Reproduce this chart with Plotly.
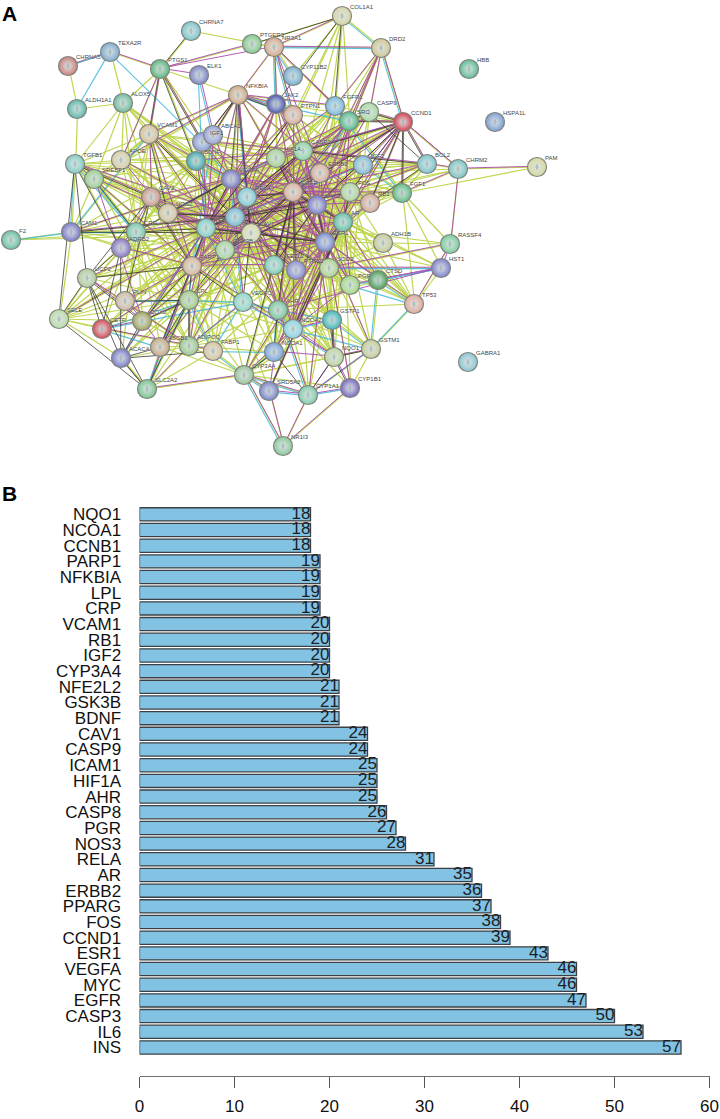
import plotly.graph_objects as go

# panel B values, top bar first
genes = ["NQO1", "NCOA1", "CCNB1", "PARP1", "NFKBIA", "LPL", "CRP", "VCAM1", "RB1", "IGF2", "CYP3A4",
         "NFE2L2", "GSK3B", "BDNF", "CAV1", "CASP9", "ICAM1", "HIF1A", "AHR", "CASP8", "PGR", "NOS3",
         "RELA", "AR", "ERBB2", "PPARG", "FOS", "CCND1", "ESR1", "VEGFA", "MYC", "EGFR", "CASP3", "IL6", "INS"]
counts = [18, 18, 18, 19, 19, 19, 19, 20, 20, 20, 20, 21, 21, 21, 24, 24, 25, 25, 25, 26, 27, 28,
          31, 35, 36, 37, 38, 39, 43, 46, 46, 47, 50, 53, 57]
count_ticks = [0, 10, 20, 30, 40, 50, 60]

# panel A network, positions
node_names = ["CHRNA7", "TEXA2R", "CHRNA5", "ALDH1A1", "ALOX5", "PTGS1", "ELK1", "PTGER3", "NR3A1", "COL1A1",
              "DRD2", "HBB", "HSPA1L", "PAM", "CYP11B2", "NFKBIA", "JAK2", "PTPN1", "FGFR1", "SRC",
              "CASP9", "CCND1", "VCAM1", "IGF1", "ABCA1", "BDNF", "TGFB1", "APOE", "SREBF1", "CAV2",
              "NOS2", "VEGFA", "HIF1A", "CASP3", "ERBB2", "IGF2", "BCL2", "CHRM2", "FGF1", "RB1",
              "RELA", "IL6", "INS", "EGFR", "MYC", "FOS", "AR", "ESR1", "CAV1", "ICAM1",
              "CRP", "F2", "ADRB2", "GSK3B", "PARP1", "NFE2L2", "PTGS2", "SOD2", "PGR", "CTSD",
              "ADH1B", "RASSF4", "HST1", "TP53", "VEGFC", "AHR", "NCOA2", "GSTP1", "NCOA1", "NQO1",
              "GSTM1", "CYP1B1", "CYP1A1", "SRD5A2", "CYP3A4", "NR1I3", "FABP1", "ADIPOQ", "ABCB1", "ACACA",
              "SLC2A2", "COX2", "CETP", "SELE", "UCP2", "PLIN", "LPL", "GABRA1"]
node_x = [191, 110, 68, 77, 123, 160, 199, 252, 274, 342,
          381, 469, 495, 537, 293, 238, 276, 293, 335, 349,
          369, 403, 149, 202, 213, 196, 75, 121, 94, 151,
          168, 231, 276, 303, 320, 363, 427, 458, 402, 370,
          247, 235, 206, 293, 317, 350, 343, 325, 251, 71,
          136, 11, 121, 225, 192, 274, 296, 329, 350, 378,
          383, 450, 441, 414, 243, 278, 293, 332, 274, 334,
          371, 350, 308, 269, 244, 283, 213, 189, 160, 121,
          147, 142, 102, 59, 87, 125, 189, 468]
node_y = [31, 52, 66, 109, 103, 69, 75, 44, 47, 16,
          48, 69, 122, 167, 76, 95, 104, 115, 106, 121,
          112, 122, 134, 142, 135, 161, 164, 160, 179, 197,
          213, 179, 158, 151, 173, 165, 164, 169, 193, 203,
          197, 217, 228, 192, 205, 192, 222, 242, 233, 232,
          232, 240, 248, 250, 266, 265, 270, 268, 285, 280,
          243, 244, 268, 304, 302, 310, 329, 320, 352, 357,
          349, 388, 395, 391, 375, 446, 351, 346, 347, 358,
          389, 321, 329, 319, 278, 301, 300, 362]
node_colors = ["#7cc6cc", "#7fa9cf", "#c9807c", "#5fb6a8", "#72bb9f", "#5cb67c", "#7f84c6", "#86c98c", "#dcaa92", "#d9d4a4",
               "#d2c692", "#60bb92", "#7d9cd0", "#d9d99d", "#78afd2", "#d3a984", "#4a56ae", "#e0ad9c", "#7bb9dc", "#55ba8c",
               "#a9d9a4", "#d83c52", "#d9c29c", "#8b9dd8", "#9ba1d8", "#45a8ac", "#85ccc4", "#d8cda4", "#a0cf92", "#cf9a8e",
               "#d9c5a0", "#7c78c4", "#a9d094", "#8fd4a4", "#dcae9c", "#82bcd8", "#7cc4cc", "#7cc4c4", "#62bc84", "#dba898",
               "#84ccd8", "#78bcd4", "#84d0c4", "#e0b09c", "#7d7acb", "#b0d69a", "#64c0a8", "#7c8ad0", "#dcdcae", "#7c78c8",
               "#7cc8ac", "#6cc0a4", "#8c78c8", "#a9d6a0", "#dcb498", "#80d0bc", "#8c8cd0", "#b0d490", "#a4d884", "#4c9e58",
               "#c8cc98", "#7ccc9c", "#7f80cc", "#e4a89c", "#8cd8c8", "#7cc8a0", "#8cd4e4", "#40b8bc", "#7ca4dc", "#c0d4a0",
               "#c8cc98", "#7a68c0", "#84ccac", "#7c84cc", "#9cc49c", "#8cc89c", "#dcc4a0", "#9cc88c", "#c8a884", "#7c7ccc",
               "#7cc490", "#a4a460", "#d84854", "#bcdca8", "#b4cc9c", "#d4b8a4", "#a4cc88", "#8cc4d4"]

# evidence channels, hub -> partners
text_links = {
    "INS": "VEGFA RELA IL6 EGFR MYC FOS AR ESR1 CAV1 CASP3 HIF1A ERBB2 IGF2 RB1 BDNF IGF1 ABCA1 SRC FGFR1 CASP9 CCND1 PTPN1 JAK2 NFKBIA NFE2L2 PTGS2 SOD2 PGR AHR NCOA2 GSK3B PARP1 NOS2 CAV2 VCAM1 TGFB1 APOE SREBF1 ICAM1 CRP ADRB2 UCP2 PLIN LPL COX2 CETP SELE FABP1 ADIPOQ ABCB1 ACACA SLC2A2 VEGFC NCOA1 CYP3A4 SRD5A2 NQO1 GSTP1 BCL2 FGF1",
    "IL6": "VEGFA RELA EGFR MYC FOS AR ESR1 CAV1 CASP3 HIF1A ERBB2 IGF2 RB1 BDNF IGF1 SRC FGFR1 CASP9 CCND1 PTPN1 JAK2 NFKBIA NFE2L2 PTGS2 SOD2 PGR AHR NCOA2 GSK3B PARP1 NOS2 CAV2 VCAM1 TGFB1 APOE SREBF1 ICAM1 CRP ALOX5 UCP2 PLIN LPL COX2 CETP SELE FABP1 ADIPOQ NCOA1 NQO1 GSTP1 BCL2 TP53 CTSD ADH1B RASSF4",
    "VEGFA": "RELA EGFR MYC FOS AR ESR1 CAV1 CASP3 HIF1A ERBB2 IGF2 RB1 BDNF IGF1 SRC FGFR1 CASP9 CCND1 PTPN1 JAK2 NFKBIA NFE2L2 PTGS2 SOD2 PGR AHR NCOA2 GSK3B PARP1 NOS2 CAV2 VCAM1 TGFB1 ICAM1 CRP COX2 VEGFC LPL SELE FGF1 BCL2 ALOX5 GSTP1 NCOA1",
    "EGFR": "RELA MYC FOS AR ESR1 CAV1 CASP3 HIF1A ERBB2 IGF2 RB1 IGF1 SRC FGFR1 CASP9 CCND1 PTPN1 JAK2 NFKBIA NFE2L2 PTGS2 SOD2 PGR AHR NCOA2 GSK3B PARP1 FGF1 BCL2 COL1A1 DRD2 ADH1B CTSD TP53 NCOA1 GSTP1 CYP1A1 CYP3A4 NQO1",
    "MYC": "FOS AR ESR1 CAV1 CASP3 HIF1A ERBB2 IGF2 RB1 SRC FGFR1 CASP9 CCND1 PTPN1 JAK2 NFE2L2 PTGS2 PGR AHR NCOA2 GSK3B PARP1 FGF1 BCL2 CHRM2 DRD2 VCAM1 CAV2 NOS2 TP53 CTSD HST1 NCOA1 VEGFC",
    "CASP3": "RELA FOS AR ESR1 CAV1 HIF1A ERBB2 IGF2 RB1 BDNF IGF1 SRC CASP9 CCND1 JAK2 NFKBIA NFE2L2 PTGS2 SOD2 AHR GSK3B PARP1 NOS2 BCL2 VCAM1 ICAM1 APOE LPL TP53 NQO1 GSTP1 ADIPOQ",
    "ESR1": "RELA FOS AR CAV1 HIF1A ERBB2 IGF2 RB1 IGF1 SRC FGFR1 CCND1 NFE2L2 PTGS2 PGR AHR NCOA2 NCOA1 GSK3B PARP1 CYP1A1 CYP1B1 CYP3A4 SRD5A2 GSTM1 NQO1 TP53 BCL2 RASSF4 HST1 FABP1 LPL COX2 UCP2",
    "CAV1": "RELA FOS AR HIF1A ERBB2 IGF2 SRC FGFR1 NOS2 VCAM1 ICAM1 CRP ADRB2 APOE SREBF1 CAV2 LPL PLIN ABCA1 ABCB1 SLC2A2 FABP1 ADIPOQ ACACA CETP UCP2 COX2 TGFB1 F2 PARP1 GSK3B AHR PGR SOD2 NFE2L2",
    "RELA": "FOS AR HIF1A ERBB2 IGF2 BDNF IGF1 SRC CCND1 PTPN1 JAK2 NFKBIA NFE2L2 PTGS2 SOD2 AHR GSK3B PARP1 NOS2 CAV2 VCAM1 ICAM1 CRP COX2 SELE TGFB1 ALOX5 PTGS1 NQO1 FGF1 RB1 CASP9",
    "HIF1A": "FOS AR ERBB2 IGF2 IGF1 SRC FGFR1 CCND1 JAK2 NFE2L2 PTGS2 SOD2 AHR NOS2 FGF1 BCL2 NFKBIA PTPN1 CASP9 NR3A1 COL1A1 GSK3B PARP1 RB1 PGR NCOA2 BDNF",
    "ERBB2": "FOS AR IGF2 RB1 SRC FGFR1 CCND1 JAK2 PTPN1 PGR NCOA2 NCOA1 FGF1 BCL2 CHRM2 DRD2 COL1A1 CASP9 PTGS2 SOD2 GSK3B NFE2L2 AHR BDNF PARP1",
    "AR": "FOS IGF2 RB1 SRC CCND1 PGR NCOA2 NCOA1 SRD5A2 CYP3A4 CYP1A1 CYP1B1 GSTP1 GSTM1 NQO1 CTSD TP53 HST1 ADH1B GSK3B PTGS2 AHR NFE2L2 SOD2 PARP1 BCL2 FGF1",
    "FOS": "IGF2 RB1 SRC FGFR1 CASP9 PTPN1 JAK2 NFE2L2 PTGS2 SOD2 PGR AHR NCOA2 GSK3B PARP1 BCL2 FGF1 CHRM2 BDNF CTSD ADH1B NOS2 NCOA1",
    "IGF2": "RB1 SRC FGFR1 CASP9 PTPN1 JAK2 PTGS2 SOD2 PGR AHR NCOA2 GSK3B BCL2 FGF1 IGF1 BDNF PARP1 NOS2 ABCA1",
    "NFE2L2": "PTGS2 SOD2 PGR AHR NCOA2 GSK3B PARP1 NOS2 CAV2 VCAM1 BDNF IGF1 VEGFC NQO1 GSTP1 GSTM1 CYP1A1 COX2 LPL",
    "PTGS2": "SOD2 PGR AHR NCOA2 GSK3B PARP1 NOS2 CAV2 VCAM1 VEGFC NQO1 GSTP1 BDNF LPL ADIPOQ NCOA1 CTSD",
    "GSK3B": "PARP1 NOS2 CAV2 VCAM1 BDNF IGF1 ABCA1 VEGFC NCOA2 PLIN APOE SREBF1 COX2 ADIPOQ ABCB1 ICAM1 ADRB2 TGFB1 CRP",
    "PARP1": "NOS2 CAV2 VCAM1 BDNF IGF1 ICAM1 ADRB2 TGFB1 APOE SREBF1 UCP2 PLIN COX2 ABCB1 SELE FABP1 VEGFC NCOA2",
    "BDNF": "IGF1 ABCA1 NOS2 CAV2 VCAM1 APOE SREBF1 TGFB1 ADRB2 CRP ICAM1 NFKBIA PTGS1 ALOX5",
    "CRP": "F2 ICAM1 ADRB2 TGFB1 APOE SREBF1 CAV2 NOS2 VCAM1 UCP2 PLIN SELE CETP COX2 ADIPOQ ABCB1 FABP1 IGF1 ALOX5 ACACA LPL",
    "LPL": "APOE SREBF1 CAV2 NOS2 ADRB2 UCP2 PLIN COX2 CETP SELE ABCB1 ADIPOQ FABP1 ACACA SLC2A2 VEGFC AHR NCOA1 CYP3A4 NCOA2",
    "ADIPOQ": "SREBF1 UCP2 PLIN COX2 CETP SELE ABCB1 FABP1 ACACA SLC2A2 VEGFC AHR NCOA1 CYP3A4 NCOA2 ADRB2",
    "CYP3A4": "CYP1A1 CYP1B1 SRD5A2 NR1I3 NCOA1 NCOA2 NQO1 GSTM1 GSTP1 AHR FABP1 ABCB1 SLC2A2 PGR",
    "AHR": "NCOA2 NCOA1 NQO1 GSTP1 GSTM1 CYP1A1 CYP1B1 PGR SOD2 VEGFC CTSD TP53",
    "SOD2": "PGR CTSD TP53 ADH1B NQO1 GSTP1 GSTM1 RASSF4 HST1",
    "CCND1": "BCL2 CHRM2 FGF1 RB1 CASP9 SRC DRD2 PTPN1 FGFR1 JAK2",
    "FGF1": "CHRM2 BCL2 RB1 RASSF4 TP53 HST1 PAM SRC FGFR1",
    "NFKBIA": "IGF1 ABCA1 VCAM1 PTPN1 JAK2 FGFR1 NR3A1 PTGS1 SREBF1 APOE",
    "PTGS1": "CHRNA7 TEXA2R ALOX5 VCAM1 IGF1 PTGER3 APOE",
    "ALOX5": "TEXA2R ALDH1A1 TGFB1 VCAM1 APOE SREBF1 CAV2",
    "VCAM1": "TGFB1 APOE SREBF1 CAV2 NOS2 IGF1 ICAM1 ADRB2",
    "TGFB1": "ALDH1A1 SREBF1 APOE CAV2 ICAM1 ADRB2",
    "SELE": "UCP2 COX2 ACACA CETP ICAM1 ADRB2 PLIN",
    "NR3A1": "CHRNA7 PTGER3 COL1A1 DRD2 PTPN1 JAK2 CYP11B2 FGFR1 SRC",
    "DRD2": "CASP9 CCND1 SRC FGFR1 COL1A1",
    "COL1A1": "PTGER3 FGFR1 SRC CYP11B2 PTPN1",
    "TP53": "RASSF4 HST1 GSTM1 CTSD ADH1B",
    "GSTM1": "CTSD NQO1 CYP1B1 CYP1A1 GSTP1",
    "NR1I3": "SRD5A2 CYP1A1 CYP1B1",
    "SLC2A2": "ACACA ABCB1 CYP3A4 FABP1",
    "CHRM2": "PAM BCL2 RASSF4",
    "ICAM1": "F2 SREBF1 ADRB2",
    "CHRNA5": "TEXA2R ALDH1A1",
}
exp_links = {
    "EGFR": "RELA MYC FOS AR ESR1 CASP3 ERBB2 SRC RB1 CCND1 JAK2 PTPN1 FGFR1 GSK3B PARP1 NFE2L2 PTGS2 PGR AHR SOD2 NCOA2 CAV1 VEGFA HIF1A IL6 IGF2 CASP9 BCL2 FGF1 NFKBIA IGF1",
    "MYC": "FOS AR ESR1 CASP3 RB1 CCND1 GSK3B PARP1 NFE2L2 HIF1A RELA VEGFA CASP9 BCL2 ERBB2 PGR NCOA2 SOD2 AHR PTGS2 IGF2 JAK2 SRC DRD2 CAV1",
    "CASP3": "RELA ESR1 BCL2 CASP9 PARP1 GSK3B IGF2 RB1 JAK2 NFKBIA HIF1A CCND1 INS IL6 SOD2 NQO1 VEGFA FOS ERBB2 NFE2L2 BDNF IGF1 PTPN1",
    "ESR1": "RELA AR FOS PGR NCOA2 NCOA1 AHR CCND1 RB1 CYP1A1 CYP1B1 SRC IGF1 ERBB2 GSK3B TP53 GSTM1 CYP3A4 VEGFA HIF1A PARP1 PTGS2 NFE2L2 CAV1 INS SOD2 CTSD",
    "INS": "IGF1 IGF2 SRC ABCA1 NFKBIA PTPN1 JAK2 GSK3B VEGFA FOS CAV1 LPL ADIPOQ ACACA SREBF1 COX2 RELA PARP1 NOS2 CAV2 UCP2 BDNF AHR",
    "IL6": "RELA JAK2 NFKBIA VEGFA CRP ICAM1 VCAM1 SELE TGFB1 FOS HIF1A CAV1 SRC GSK3B PARP1 NOS2 PTGS2 AHR NFE2L2 SOD2",
    "VEGFA": "RELA HIF1A FOS SRC JAK2 PTPN1 FGFR1 CAV1 CAV2 NOS2 ICAM1 VCAM1 PARP1 GSK3B PTGS2 NFE2L2 NCOA2 AHR VEGFC BDNF IGF1",
    "CAV1": "SRC FOS ERBB2 AR RELA NOS2 APOE CAV2 LPL PLIN ADIPOQ ABCB1 COX2 CETP ABCA1 GSK3B PTGS2",
    "RELA": "FOS AR ERBB2 HIF1A JAK2 NFKBIA NFE2L2 PTGS2 SOD2 AHR GSK3B PARP1 NOS2 PTPN1 SRC",
    "AR": "FOS ERBB2 RB1 SRC CCND1 PGR NCOA2 NCOA1 SRD5A2 GSK3B PTGS2 CTSD AHR",
    "CCND1": "RB1 SRC FOS BCL2 CHRM2 CASP9 IGF2 GSK3B DRD2 RELA ERBB2 HIF1A FGF1",
    "NFKBIA": "RELA PTPN1 JAK2 FGFR1 NR3A1 ABCA1 IGF1 VCAM1 APOE",
    "NR3A1": "DRD2 PTPN1 JAK2 FGFR1 PTGS1 ERBB2 COL1A1 SRC",
    "DRD2": "SRC FGFR1 CASP9 ERBB2",
    "PTGS1": "TEXA2R PTGER3 ELK1 IGF1 VCAM1 APOE",
    "CYP1A1": "CYP1B1 SRD5A2 CYP3A4 AHR NR1I3 GSTM1 NQO1",
    "NR1I3": "CYP3A4 SRD5A2 CYP1B1",
    "SRD5A2": "CYP3A4 AR NCOA1",
    "SLC2A2": "CYP3A4 INS",
    "CHRM2": "PAM RASSF4 BCL2 CCND1 FGF1",
    "RASSF4": "TP53 HST1 SOD2",
    "HST1": "SOD2 PGR AHR CTSD",
    "COX2": "CETP LPL PLIN ABCB1 SREBF1 UCP2",
    "CAV2": "APOE TGFB1 VCAM1 NOS2 ADRB2 PARP1",
    "ADIPOQ": "FABP1 LPL CETP SLC2A2 UCP2 VEGFC",
    "PARP1": "ABCB1 VCAM1 ADRB2 TGFB1 NCOA2 NFE2L2",
    "GSK3B": "NOS2 CAV2 VCAM1 BDNF PTGS2 NFE2L2",
    "NCOA2": "NCOA1 GSTP1 CYP3A4 PGR SOD2 NFE2L2",
    "NQO1": "NCOA1 GSTP1 GSTM1 CYP1B1 VEGFC NCOA2",
    "ELK1": "ABCA1",
    "TEXA2R": "CHRNA5",
}
db_links = {
    "NR3A1": "DRD2 JAK2 PTPN1 CYP11B2",
    "TEXA2R": "CHRNA5 ALDH1A1 IGF1",
    "ELK1": "IGF1 ABCA1",
    "ICAM1": "TGFB1 CRP F2 VCAM1",
    "CRP": "TGFB1 SREBF1",
    "NFKBIA": "RELA JAK2 PTPN1",
    "HST1": "SOD2 CTSD PGR",
    "CYP1A1": "CYP3A4 CYP1B1 SRD5A2 GSTM1",
    "CYP3A4": "NR1I3 SRD5A2 NCOA1",
    "GSTM1": "CTSD TP53 GSTP1",
    "TP53": "PGR CTSD",
    "DRD2": "COL1A1 CCND1",
    "FGF1": "FGFR1 IGF2",
    "SRC": "EGFR ERBB2 JAK2 FGFR1",
    "VEGFA": "HIF1A IGF1 VEGFC NOS2 CAV1 BDNF",
    "INS": "IGF1 IGF2 SLC2A2 VEGFC ACACA",
    "LPL": "VEGFC PLIN ABCA1 CETP SLC2A2",
    "FABP1": "LPL NCOA1 CYP3A4 VEGFC",
    "AHR": "NCOA2 NCOA1 CYP1A1",
    "VEGFC": "AHR NCOA2 GSTP1 ADIPOQ COX2",
    "NCOA2": "GSTP1 NQO1 GSTM1",
    "CETP": "COX2 ABCB1",
}
coexp_links = {
    "CCND1": "FGF1 RB1 FOS CASP9 CASP3 MYC EGFR",
    "NFKBIA": "VEGFA IGF1 BDNF CAV1 PTPN1",
    "COL1A1": "PTGER3 FGFR1 JAK2",
    "PARP1": "LPL CAV2 UCP2 COX2 ABCB1 VEGFC",
    "CRP": "ICAM1 SREBF1 ADRB2 VEGFA INS CAV1",
    "UCP2": "COX2 CETP ACACA SLC2A2 SELE CAV2",
    "ACACA": "SLC2A2 COX2 ABCB1 FABP1",
    "LPL": "COX2 ABCB1 ADIPOQ PLIN SLC2A2 GSK3B",
    "NCOA1": "CYP1A1 CYP3A4 AHR",
    "NQO1": "GSTM1 CYP1B1 CYP1A1 GSTP1",
    "CAV1": "ESR1 PTGS2 EGFR INS GSK3B VEGFC RELA",
    "EGFR": "RELA ESR1 MYC PTGS2 AHR CYP3A4 AR NFE2L2 GSK3B HIF1A",
    "MYC": "ESR1 NFE2L2 AR IL6 HIF1A GSK3B",
    "IL6": "CASP3 ESR1 INS FOS VCAM1 ICAM1 SOD2 NOS2",
    "INS": "VEGFA ESR1 CASP3 ERBB2 PTPN1 PARP1",
    "AR": "ESR1 FOS NCOA2 SRD5A2",
    "BCL2": "CCND1 CASP9 CASP3 RB1",
    "SRC": "CASP9 FGFR1 CCND1",
    "PTGS1": "CHRNA7 IGF1 VCAM1 BDNF",
    "TGFB1": "ADRB2 SELE UCP2 CAV2",
    "ADRB2": "UCP2 CETP ACACA",
    "NOS2": "VCAM1 VEGFA IL6",
    "CAV2": "NOS2 PLIN CRP",
    "SLC2A2": "ACACA SELE",
}


def link_coords(links, dx, dy):
    # one trace per evidence channel, gaps between segments
    xs, ys = [], []
    for hub, partners in links.items():
        a = node_names.index(hub)
        for name in partners.split():
            b = node_names.index(name)
            xs += [node_x[a] + dx, node_x[b] + dx, None]
            ys += [node_y[a] + dy, node_y[b] + dy, None]
    return xs, ys


fig = go.Figure()

channels = [(text_links, "#b4cf32", 1.2, 0.7, 0.0),
            (db_links, "#42b9dc", 1.1, -0.8, 0.6),
            (exp_links, "#a63fab", 1.0, 0.7, -0.8),
            (coexp_links, "#2f312b", 0.9, -0.3, 0.3)]
for links, col, w, dx, dy in channels:
    xs, ys = link_coords(links, dx, dy)
    fig.add_trace(go.Scatter(x=xs, y=ys, mode="lines", xaxis="x2", yaxis="y2", hoverinfo="skip",
                             line=dict(color=col, width=w), opacity=0.85))

fig.add_trace(go.Scatter(
    x=node_x, y=node_y, mode="markers", xaxis="x2", yaxis="y2",
    marker=dict(size=19, color=node_colors, opacity=1,
                gradient=dict(type="radial", color="#dbe6e4"),
                line=dict(color="#80857f", width=1.2)),
))
# protein glyph in each sphere
fig.add_trace(go.Scatter(
    x=node_x, y=node_y, mode="markers", xaxis="x2", yaxis="y2",
    marker=dict(size=5, symbol="diamond-tall", color="#5b6f78", opacity=0.3, line=dict(width=0)),
))
fig.add_trace(go.Scatter(
    x=[x + 8 for x in node_x], y=[y - 6 for y in node_y], mode="text", xaxis="x2", yaxis="y2",
    text=node_names, textposition="top right",
    textfont=dict(family="Liberation Sans", size=6, color="#444444", shadow="0px 0px 2px #ffffff"),
))

fig.add_trace(go.Bar(
    x=counts, y=genes, orientation="h", width=0.84,
    marker=dict(color="#82c3e3", line=dict(color="#3c4044", width=1.3)),
))
fig.add_trace(go.Scatter(
    x=counts, y=genes, mode="text", text=[str(c) for c in counts], textposition="middle left",
    textfont=dict(family="Liberation Sans", size=17, color="#1c2024"), cliponaxis=False,
))

H = 1119
fig.update_layout(
    width=720, height=H, margin=dict(l=0, r=0, t=0, b=0, autoexpand=False),
    paper_bgcolor="white", plot_bgcolor="white", showlegend=False,
    font=dict(family="Liberation Sans", color="#111111"),
    xaxis=dict(domain=[139.5 / 720, 709.5 / 720], range=[0, 60], tickvals=count_ticks,
               anchor="free", position=(H - 1076) / H, showgrid=False, zeroline=False,
               showline=True, linecolor="#707070", linewidth=1.3,
               ticks="outside", ticklen=11, tickwidth=1.3, tickcolor="#555555", ticklabelstandoff=3,
               tickfont=dict(size=17, color="#111111")),
    yaxis=dict(domain=[(H - 1055.3) / H, (H - 506.5) / H], range=[-0.5, 34.5], type="category",
               categoryorder="array", categoryarray=genes[::-1], tickmode="array", tickvals=genes,
               showgrid=False, zeroline=False, showline=False,
               ticks="outside", ticklen=15, tickcolor="rgba(0,0,0,0)",
               tickfont=dict(size=17, color="#111111"), anchor="free", position=139.5 / 720),
    xaxis2=dict(domain=[0, 1], range=[0, 720], visible=False),
    yaxis2=dict(domain=[(H - 470) / H, 1], range=[470, 0], visible=False),
    annotations=[
        dict(text="<b>A</b>", x=9.5 / 720, y=(H - 14) / H, xref="paper", yref="paper", showarrow=False,
             xanchor="center", yanchor="middle",
             font=dict(family="Liberation Sans", size=21, color="black")),
        dict(text="<b>B</b>", x=9.5 / 720, y=(H - 493) / H, xref="paper", yref="paper", showarrow=False,
             xanchor="center", yanchor="middle",
             font=dict(family="Liberation Sans", size=21, color="black")),
    ],
)

fig.write_html("out.html", config={"displayModeBar": False},
               post_script="document.body.style.margin='0';")
